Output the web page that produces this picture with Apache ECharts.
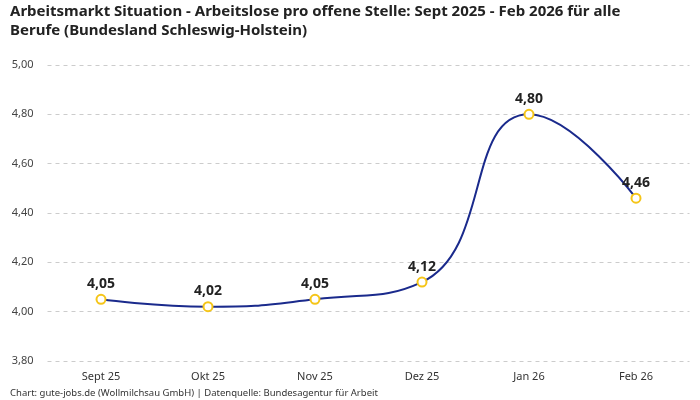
<!DOCTYPE html>
<html><head><meta charset="utf-8">
<script src="https://cdn.jsdelivr.net/npm/echarts@6/dist/echarts.min.js"></script>
<style>html,body{margin:0;padding:0;background:#fff}#c{width:700px;height:400px}</style>
</head><body><div id="c"></div>
<script>
const categories = ['Sept 25','Okt 25','Nov 25','Dez 25','Jan 26','Feb 26'];
const values = [4.05, 4.02, 4.05, 4.12, 4.80, 4.46];
const titleText = 'Arbeitsmarkt Situation - Arbeitslose pro offene Stelle: Sept 2025 - Feb 2026 für alle\nBerufe (Bundesland Schleswig-Holstein)';
const sourceText = 'Chart: gute-jobs.de (Wollmilchsau GmbH) | Datenquelle: Bundesagentur für Arbeit';
const fmt = v => v.toFixed(2).replace('.', ',');
const FONT = 'Noto Sans';
const chart = echarts.init(document.getElementById('c'), null, {renderer:'canvas'});
chart.setOption({
  animation:false,
  textStyle:{fontFamily:FONT},
  title:[{
    text:titleText, left:5, top:-3,
    textStyle:{fontFamily:FONT, fontSize:15, fontWeight:'bold', color:'#222', lineHeight:19}
  },{
    text:sourceText, left:5, top:383,
    textStyle:{fontFamily:FONT, fontSize:9.5, fontWeight:'normal', color:'#333'}
  }],
  grid:{left:47.5, right:10.5, top:65, bottom:39, containLabel:false},
  xAxis:{
    type:'category', data:categories, boundaryGap:true,
    axisLine:{show:false}, axisTick:{show:false},
    axisLabel:{color:'#333', fontSize:11, margin:10}
  },
  yAxis:{
    type:'value', min:3.8, max:5.0, interval:0.2,
    axisLabel:{color:'#444', fontSize:11, formatter:v=>fmt(v), margin:14},
    splitLine:{lineStyle:{type:[4,4], color:'#ccc'}}
  },
  series:[{
    type:'line', data:values, smooth:true,
    lineStyle:{color:'#1a2a8c', width:2},
    itemStyle:{color:'#fff', borderColor:'#f5c518', borderWidth:2},
    symbol:'circle', symbolSize:9,
    label:{show:true, position:'top', formatter:p=>fmt(p.value), fontSize:14, fontWeight:'bold', color:'#222', distance:3}
  }]
});
</script></body></html>
